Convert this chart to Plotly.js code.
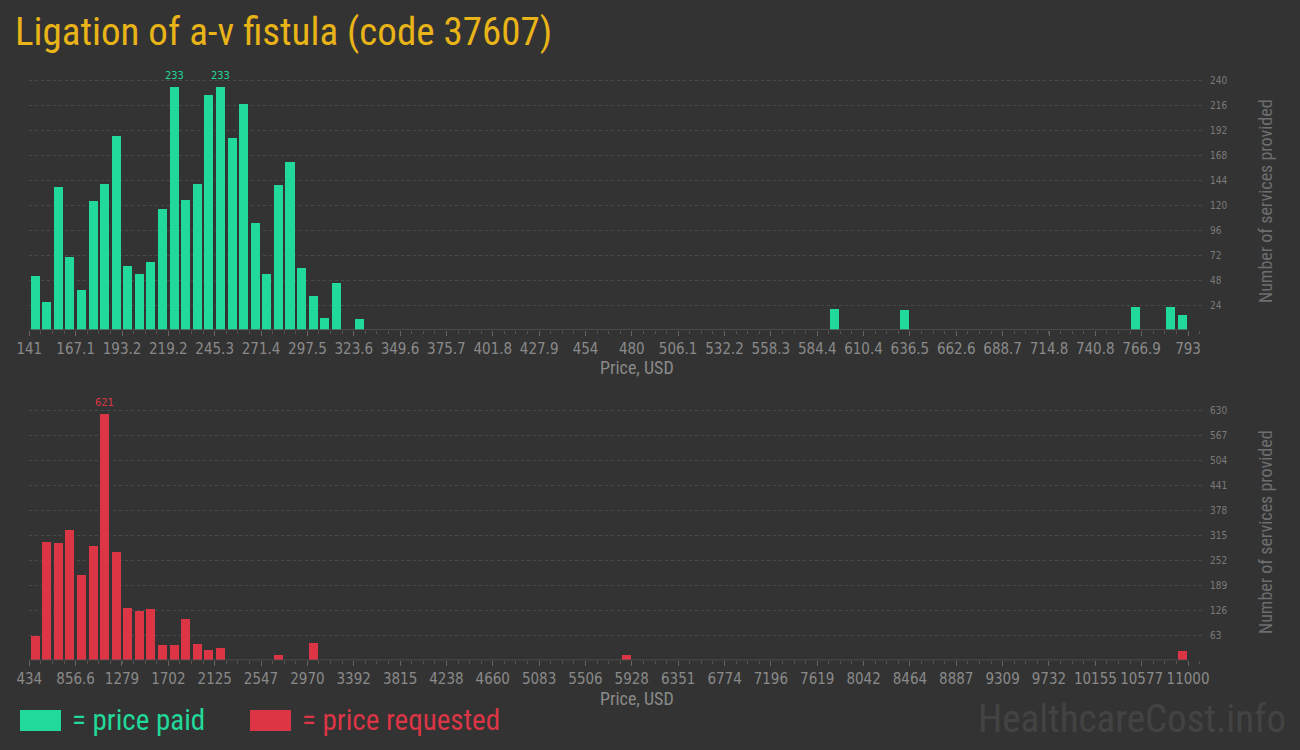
<!DOCTYPE html>
<html><head><meta charset="utf-8">
<script src="https://cdn.plot.ly/plotly-3.0.1.min.js"></script>
<style>html,body{margin:0;padding:0;background:#333333;}#chart{width:1300px;height:750px;}</style>
</head><body><div id="chart"></div>
<script>
const chartTitle = "Ligation of a-v fistula (code 37607)";
const nBins = 100;

// price paid histogram
const paidMin = 141, paidMax = 793;
const paidBinIndex = [0,1,2,3,4,5,6,7,8,9,10,11,12,13,14,15,16,17,18,19,20,21,22,23,24,25,26,28,69,75,95,98,99];
const paidCounts   = [52,27,137,70,38,124,140,186,61,54,65,116,233,125,140,226,233,184,217,103,54,139,161,60,33,12,45,11,20,19,22,22,14];
const paidTickLabels = ["141","167.1","193.2","219.2","245.3","271.4","297.5","323.6","349.6","375.7","401.8","427.9","454","480","506.1","532.2","558.3","584.4","610.4","636.5","662.6","688.7","714.8","740.8","766.9","793"];
const paidYTicks = [24,48,72,96,120,144,168,192,216,240];

// price requested histogram
const reqMin = 434, reqMax = 11000;
const reqBinIndex = [0,1,2,3,4,5,6,7,8,9,10,11,12,13,14,15,16,21,24,51,99];
const reqCounts   = [61,298,296,328,215,288,621,273,132,124,129,39,39,104,41,26,31,13,44,13,23];
const reqTickLabels = ["434","856.6","1279","1702","2125","2547","2970","3392","3815","4238","4660","5083","5506","5928","6351","6774","7196","7619","8042","8464","8887","9309","9732","10155","10577","11000"];
const reqYTicks = [63,126,189,252,315,378,441,504,567,630];

const GREEN = "#21d99a", RED = "#dc3545", BG = "#333333";
const narrow = "Liberation Sans Narrow, DejaVu Sans Condensed, Roboto Condensed, sans-serif";
const cond = "Roboto Condensed, Roboto, sans-serif";

function centers(min, max, idx){ const w=(max-min)/nBins; return idx.map(i=>min+(i+0.5)*w); }
const pw = (paidMax-paidMin)/nBins, rw = (reqMax-reqMin)/nBins;

// pixel geometry
const W=1300,H=750, xL=29.3, xR=1188, xEnd=1205;
const pxPerPaid=(xR-xL)/(paidMax-paidMin), pxPerReq=(xR-xL)/(reqMax-reqMin);

const traces = [
 {type:'bar', x:centers(paidMin,paidMax,paidBinIndex), y:paidCounts, width:pw*0.78, marker:{color:GREEN}, xaxis:'x', yaxis:'y', hoverinfo:'x+y'},
 {type:'bar', x:centers(reqMin,reqMax,reqBinIndex), y:reqCounts, width:rw*0.78, marker:{color:RED}, xaxis:'x2', yaxis:'y2', hoverinfo:'x+y'}
];

function xAxis(min, max, labels, pxPer, dom){
  return {domain:dom, range:[min, min+(xEnd-xL)/pxPer], tickmode:'array', tickvals:labels.map(parseFloat), ticktext:labels,
    ticks:'outside', ticklen:5, tickcolor:'#666', tickwidth:1, showgrid:false, zeroline:false, showline:false,
    tickfont:{family:narrow, size:15, color:'#8a8a8a'},
    minor:{dtick:(max-min)/nBins, tick0:min, ticks:'outside', ticklen:3, tickcolor:'#555', showgrid:false},
    fixedrange:true};
}
function yAxis(ticks, top, dom, anchor){
  return {domain:dom, range:[0, top], side:'right', anchor:anchor, tickmode:'array', tickvals:ticks, ticktext:ticks.map(String),
    ticks:'', showgrid:true, gridcolor:'#4a4a4a', griddash:'3px,3px', gridwidth:1, zeroline:false, showline:false,
    tickfont:{family:narrow, size:10, color:'#7a7a7a'}, ticklabelstandoff:4, fixedrange:true};
}
const xDom=[xL/W, xEnd/W];
const topDom=[1-330/H, 1-70/H], botDom=[1-660.3/H, 1-400.3/H];

const layout = {
  width:W, height:H, margin:{l:0,r:0,t:0,b:0}, paper_bgcolor:BG, plot_bgcolor:BG, showlegend:false, bargap:0,
  title:{text:chartTitle, x:15/W, xref:'paper', xanchor:'left', y:1-31/H, yref:'paper', yanchor:'middle', font:{family:cond, size:39, color:'#e8b418'}},
  xaxis: xAxis(paidMin, paidMax, paidTickLabels, pxPerPaid, xDom),
  yaxis: yAxis(paidYTicks, 240*260/250, topDom, 'x'),
  xaxis2: Object.assign(xAxis(reqMin, reqMax, reqTickLabels, pxPerReq, xDom), {anchor:'y2'}),
  yaxis2: yAxis(reqYTicks, 630*260/250, botDom, 'x2'),
  shapes:[
    {type:'line', xref:'x', yref:'y', x0:paidMin, x1:paidMax, y0:0, y1:0, line:{color:'#555', width:1.5}},
    {type:'line', xref:'x2', yref:'y2', x0:reqMin, x1:reqMax, y0:0, y1:0, line:{color:'#555', width:1.5}},
    {type:'rect', xref:'paper', yref:'paper', x0:20/W, x1:61/W, y0:1-731/H, y1:1-710/H, fillcolor:GREEN, line:{width:0}},
    {type:'rect', xref:'paper', yref:'paper', x0:250/W, x1:291/W, y0:1-731/H, y1:1-710/H, fillcolor:RED, line:{width:0}}
  ],
  annotations:[
    {text:'Price, USD', xref:'paper', yref:'paper', x:637/W, y:1-368/H, xanchor:'center', yanchor:'middle', showarrow:false, font:{family:cond, size:18, color:'#8a8a8a'}},
    {text:'Price, USD', xref:'paper', yref:'paper', x:637/W, y:1-698/H, xanchor:'center', yanchor:'middle', showarrow:false, font:{family:cond, size:18, color:'#8a8a8a'}},
    {text:'Number of services provided', xref:'paper', yref:'paper', x:1265/W, y:1-201/H, xanchor:'center', yanchor:'middle', textangle:-90, showarrow:false, font:{family:cond, size:18, color:'#6e6e6e'}},
    {text:'Number of services provided', xref:'paper', yref:'paper', x:1265/W, y:1-532/H, xanchor:'center', yanchor:'middle', textangle:-90, showarrow:false, font:{family:cond, size:18, color:'#6e6e6e'}},
    {text:'= price paid', xref:'paper', yref:'paper', x:70/W, y:1-720/H, xanchor:'left', yanchor:'middle', showarrow:false, font:{family:cond, size:29, color:GREEN}},
    {text:'= price requested', xref:'paper', yref:'paper', x:300/W, y:1-720/H, xanchor:'left', yanchor:'middle', showarrow:false, font:{family:cond, size:29, color:RED}},
    {text:'HealthcareCost.info', xref:'paper', yref:'paper', x:1288/W, y:1-719/H, xanchor:'right', yanchor:'middle', showarrow:false, font:{family:cond, size:39, color:'#434343'}}
  ]
};
// value labels on the tallest bars
function peakLabels(min,max,idx,counts,xa,ya,color){
  const mx=Math.max(...counts); const c=centers(min,max,idx);
  return counts.map((v,i)=>v===mx?{text:String(v), x:c[i], y:v, xref:xa, yref:ya, xanchor:'center', yanchor:'bottom', yshift:3, showarrow:false, font:{family:narrow, size:11, color:color}}:null).filter(Boolean);
}
layout.annotations.push(...peakLabels(paidMin,paidMax,paidBinIndex,paidCounts,'x','y',GREEN));
layout.annotations.push(...peakLabels(reqMin,reqMax,reqBinIndex,reqCounts,'x2','y2',RED));

Plotly.newPlot('chart', traces, layout, {displayModeBar:false, staticPlot:true});
</script></body></html>
